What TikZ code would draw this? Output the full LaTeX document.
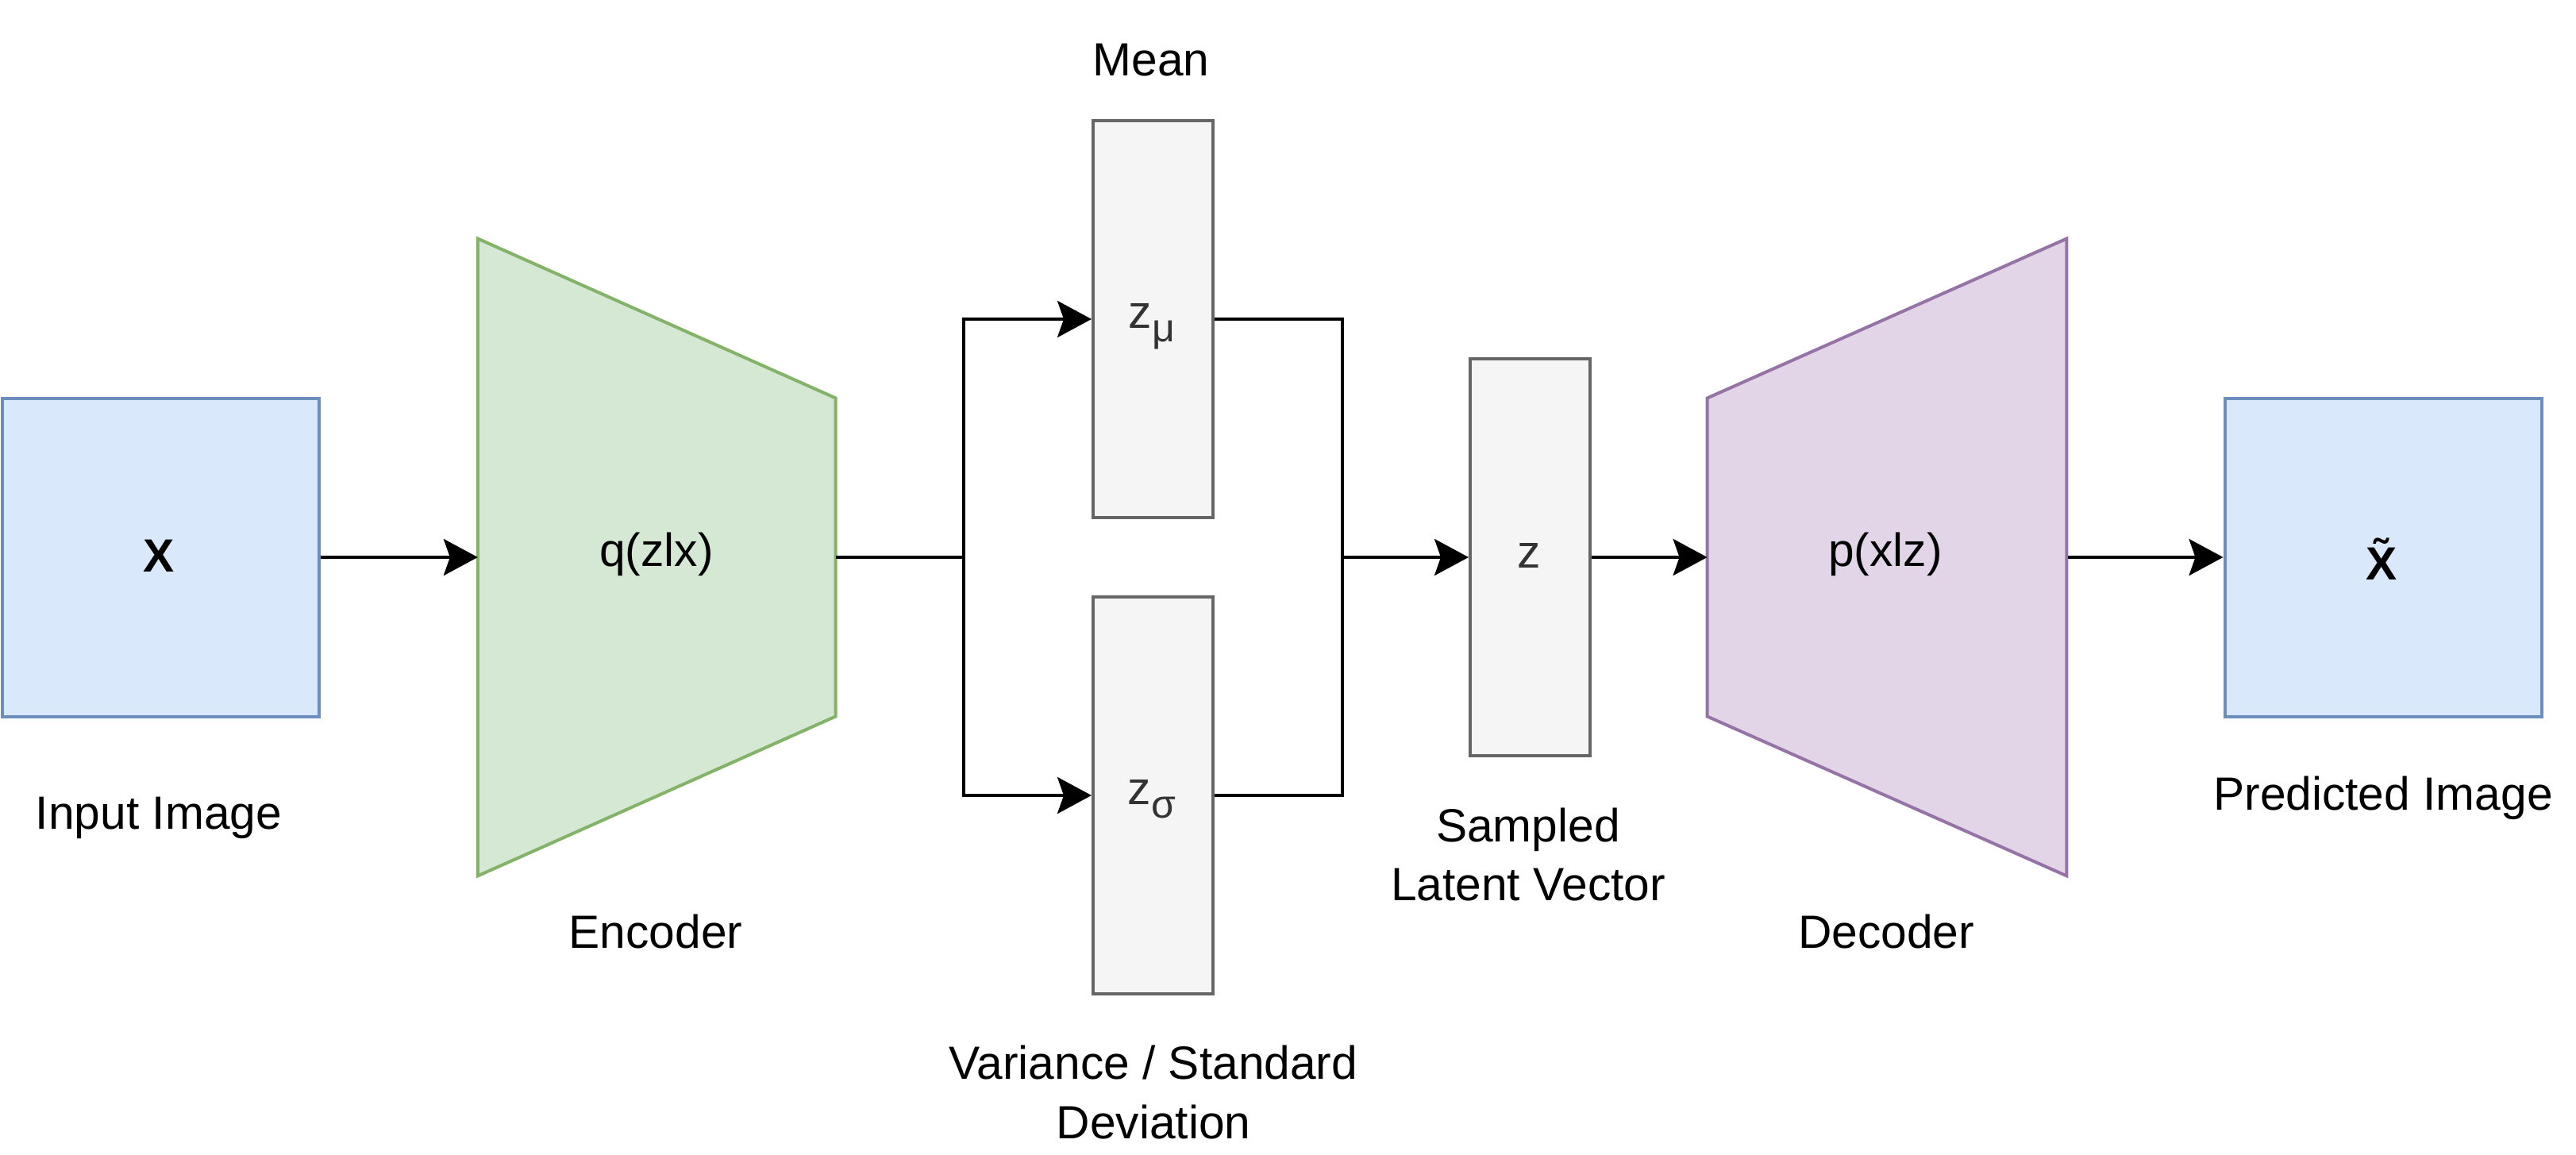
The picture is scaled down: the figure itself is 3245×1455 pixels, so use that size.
\documentclass[tikz,border=0pt]{standalone}
\usepackage{fontspec}
\setmainfont{Liberation Sans}
\usetikzlibrary{arrows.meta}
\definecolor{bluefill}{HTML}{DAE8FC}
\definecolor{blueline}{HTML}{6C8EBF}
\definecolor{greenfill}{HTML}{D5E8D4}
\definecolor{greenline}{HTML}{82B366}
\definecolor{purplefill}{HTML}{E1D5E7}
\definecolor{purpleline}{HTML}{9673A6}
\definecolor{grayfill}{HTML}{F5F5F5}
\definecolor{grayline}{HTML}{666666}
\definecolor{graytext}{HTML}{333333}
\begin{document}
\begin{tikzpicture}[x=0.5pt,y=-0.5pt,
  lbl/.style={inner sep=0pt, anchor=base, font=\fontsize{29.35}{35}\selectfont},
  imgbox/.style={draw=blueline, fill=bluefill, line width=2pt, minimum width=199.5pt, minimum height=200.5pt, inner sep=0pt},
  vecbox/.style={draw=grayline, fill=grayfill, line width=2pt, minimum width=75.5pt, minimum height=250pt, inner sep=0pt},
  trap/.style={minimum width=225pt, minimum height=401pt, inner sep=0pt},
  conn/.style={line width=2pt, line join=miter},
  arr/.style={conn, -{Stealth[length=21.5pt, width=23pt, inset=4pt]}}
]
\useasboundingbox (0,0) rectangle (3245,1455);

% image boxes
\node[imgbox] (in) at (202.5,702) {};
\node[imgbox] (out) at (3002,702) {};

% encoder / decoder trapezoids
\node[trap] (enc) at (827.25,702) {};
\filldraw[fill=greenfill, draw=greenline, line width=2pt]
  (enc.north west) -- ([yshift=100.25pt]enc.east) -- ([yshift=-100.25pt]enc.east) -- (enc.south west) -- cycle;
\node[trap, minimum width=226pt] (dec) at (2377,702) {};
\filldraw[fill=purplefill, draw=purpleline, line width=2pt]
  (dec.north east) -- ([yshift=100.25pt]dec.west) -- ([yshift=-100.25pt]dec.west) -- (dec.south east) -- cycle;

% latent vectors
\node[vecbox] (mu) at (1452.5,402) {};
\node[vecbox] (sig) at (1452.5,1002) {};
\node[vecbox] (zb) at (1927.5,702) {};

% connectors
\coordinate (br) at (1213.5,702);
\coordinate (mg) at (1691,702);
\draw[arr] (in.east) -- (enc.west);
\draw[conn] (enc.east) -- (br);
\draw[arr] (br) |- (mu.west);
\draw[arr] (br) |- (sig.west);
\draw[conn] (mu.east) -| (mg);
\draw[conn] (sig.east) -| (mg);
\draw[arr] (mg) -- (zb.west);
\draw[arr] (zb.east) -- (dec.west);
\draw[arr] ([xshift=1pt]dec.east |- 0,702) -- (out.west);

% texts inside shapes
\node[lbl] (tx) at (200,720) {\bfseries X};
\node[lbl] (tq) at (827,713) {q(zlx)};
\node[lbl, text=graytext] (tmu) at (1451,413) {z\raisebox{-0.3em}{\fontsize{25}{25}\selectfont μ}};
\node[lbl, text=graytext] (tsig) at (1451,1013) {z\raisebox{-0.3em}{\fontsize{25}{25}\selectfont σ}};
\node[lbl, text=graytext] (tz) at (1926,715) {z};
\node[lbl] (tp) at (2375,713) {p(xlz)};
\node[lbl] (txt) at (3000,730) {\bfseries\~{X}};

% captions
\node[lbl] (cin) at (200,1044) {Input Image};
\node[lbl] (cenc) at (826,1194) {Encoder};
\node[lbl] (cmean) at (1450,96) {Mean};
\node[lbl] (cvar1) at (1453,1359) {Variance / Standard};
\node[lbl] (cvar2) at (1453,1434) {Deviation};
\node[lbl] (csam1) at (1925,1060) {Sampled};
\node[lbl] (csam2) at (1925,1134) {Latent Vector};
\node[lbl] (cdec) at (2376,1194) {Decoder};
\node[lbl] (cpred) at (3002,1020) {Predicted Image};
\end{tikzpicture}
\end{document}
